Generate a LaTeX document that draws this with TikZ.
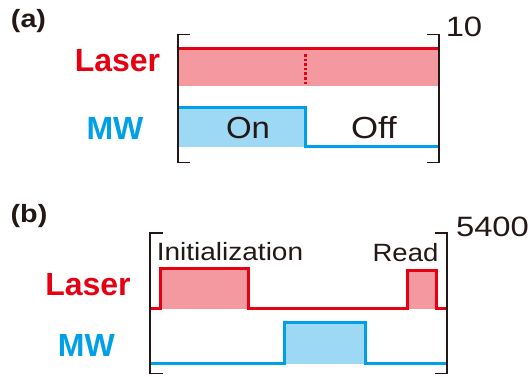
\documentclass[tikz,border=0pt]{standalone}
\usepackage{fontspec}
\usepackage{graphicx}
\setmainfont{Liberation Sans}
\definecolor{lred}{HTML}{E60012}
\definecolor{lpink}{HTML}{F4999F}
\definecolor{mblue}{HTML}{00A0E9}
\definecolor{mlight}{HTML}{9DD8F5}
\definecolor{ink}{HTML}{231815}
\tikzset{
  lbl/.style={inner sep=0pt, anchor=base, font=\bfseries\fontsize{32}{36}\selectfont},
  txt/.style={inner sep=0pt, anchor=base, text=ink},
  panel/.style={inner sep=0pt, anchor=base, text=ink, font=\bfseries\fontsize{25}{30}\selectfont},
  brk/.style={draw=ink, line width=1.8pt},
  redw/.style={draw=lred, line width=3pt},
  bluew/.style={draw=mblue, line width=3pt},
}
\newcommand{\widen}[2]{\scalebox{#1}[1]{#2}}
\begin{document}
\begin{tikzpicture}[x=1pt,y=-1pt]
\useasboundingbox (0,0) rectangle (531,377);
% ---------- panel (a)
\node[panel] (pa) at (28.5,28) {\widen{1.15}{(a)}};
\fill[lpink] (178,48.5) rectangle (439,86.5);
\draw[redw, line width=3.6pt] (178,48.5) -- (439,48.5);
\draw[lred, line width=2.6pt, dash pattern=on 2.6pt off 2pt] (305.5,54) -- (305.5,86);
\fill[mlight] (178,108) rectangle (305.7,147);
\draw[bluew] (178,108) -- (305.7,108) -- (305.7,147) -- (439,147);
\draw[brk] (190,34.5) -- (178,34.5) -- (178,162.5) -- (190,162.5);
\draw[brk] (427,34.5) -- (439,34.5) -- (439,162.5) -- (427,162.5);
\node[lbl, text=lred] (la) at (117.5,72) {Laser};
\node[lbl, text=mblue] (ma) at (115,140) {MW};
\node[txt, font=\fontsize{30.5}{36}\selectfont] (on) at (248,138.3) {\widen{1.08}{On}};
\node[txt, font=\fontsize{30.5}{36}\selectfont] (off) at (374,138.3) {\widen{1.14}{Off}};
\node[txt, font=\fontsize{28}{34}\selectfont] (ten) at (464,37) {\widen{1.17}{10}};
% ---------- panel (b)
\node[panel] (pb) at (29,223) {\widen{1.15}{(b)}};
\fill[lpink] (160.2,268.6) rectangle (248.2,309);
\fill[lpink] (407,271) rectangle (436.2,309);
\draw[redw] (150,309) -- (160.2,309) -- (160.2,268.6) -- (248.2,268.6) -- (248.2,309)
  -- (407,309) -- (407,271) -- (436.2,271) -- (436.2,309) -- (447,309);
\fill[mlight] (284.5,323) rectangle (365.7,363.5);
\draw[bluew] (150,363.5) -- (284.5,363.5) -- (284.5,323) -- (365.7,323) -- (365.7,363.5) -- (447,363.5);
\draw[brk] (162.5,233) -- (150,233) -- (150,373.5) -- (162.5,373.5);
\draw[brk] (435,233) -- (447,233) -- (447,373.5) -- (435,373.5);
\node[lbl, text=lred] (lb) at (88,295.6) {Laser};
\node[lbl, text=mblue] (mb) at (86.3,356) {MW};
\node[txt, font=\fontsize{25}{30}\selectfont] (init) at (230,261) {\widen{1.12}{Initialization}};
\node[txt, font=\fontsize{25}{30}\selectfont] (read) at (405.5,261.5) {\widen{1.1}{Read}};
\node[txt, font=\fontsize{28}{34}\selectfont] (big) at (492.5,236.7) {\widen{1.17}{5400}};
\end{tikzpicture}
\end{document}
